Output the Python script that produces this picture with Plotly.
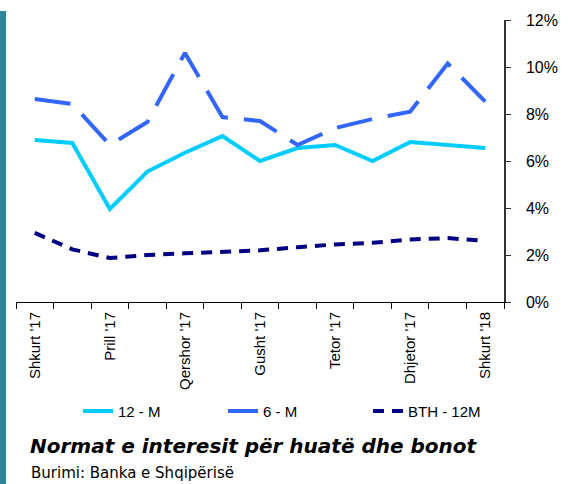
import plotly.graph_objects as go

# Muajt (shkurt 2017 - shkurt 2018)
muajt = ["Shkurt '17", "Mars '17", "Prill '17", "Maj '17", "Qershor '17", "Korrik '17",
         "Gusht '17", "Shtator '17", "Tetor '17", "Nëntor '17", "Dhjetor '17",
         "Janar '18", "Shkurt '18"]
etiketat = [m if i % 2 == 0 else "" for i, m in enumerate(muajt)]

# Normat e interesit (%)
m12 = [6.89, 6.77, 3.96, 5.55, 6.35, 7.06, 6.0, 6.55, 6.68, 6.0, 6.81, 6.68, 6.55]
m6 = [8.64, 8.43, 6.68, 7.66, 10.6, 7.87, 7.7, 6.68, 7.4, 7.79, 8.1, 10.15, 8.53]
bth12 = [2.94, 2.24, 1.87, 2.0, 2.07, 2.12, 2.2, 2.33, 2.45, 2.52, 2.66, 2.72, 2.6]

fig = go.Figure()
fig.add_trace(go.Scatter(x=muajt, y=m12, name="12 - M", mode="lines",
                         line=dict(color="#00CCFF", width=4)))
fig.add_trace(go.Scatter(x=muajt, y=m6, name="6 - M", mode="lines",
                         line=dict(color="#3366FF", width=4, dash="36px,16px")))
fig.add_trace(go.Scatter(x=muajt, y=bth12, name="BTH - 12M", mode="lines",
                         line=dict(color="#000080", width=4, dash="11px,8px")))

fig.update_layout(
    width=570, height=484,
    margin=dict(l=16, r=66, t=20, b=182, autoexpand=False),
    paper_bgcolor="white", plot_bgcolor="white",
    font=dict(family="Liberation Sans, Arial", color="#000000", size=13),
    showlegend=True,
    legend=dict(orientation="h", x=0.127, y=-0.387, xanchor="left", yanchor="middle",
                entrywidth=100, font=dict(size=15), bgcolor="rgba(0,0,0,0)"),
    xaxis=dict(type="category", tickvals=muajt, ticktext=etiketat, tickangle=-90,
               range=[-0.5, len(muajt) - 0.5],
               tickson="boundaries", ticks="outside", ticklen=6, tickcolor="#000",
               ticklabelstandoff=3,
               showline=True, linecolor="#000", linewidth=1, showgrid=False,
               automargin=False, tickfont=dict(size=15)),
    yaxis=dict(side="right", range=[0, 12], dtick=2, ticksuffix="%",
               ticks="outside", ticklen=5, tickcolor="#333", ticklabelstandoff=12,
               showline=True, linecolor="#333", linewidth=1.5, showgrid=False,
               zeroline=False, automargin=False, tickfont=dict(size=16)),
)

# Shirit ngjyrë blu-jeshile në të majtë
fig.add_shape(type="rect", xref="paper", yref="paper",
              x0=-16 / 488, x1=-10 / 488, y0=-182 / 282, y1=291 / 282,
              fillcolor="#2E8499", line=dict(width=0), layer="above")

fig.add_annotation(text="<b><i>Normat e interesit për huatë dhe bonot</i></b>",
                   xref="paper", yref="paper", x=12 / 488, y=-144 / 282,
                   xanchor="left", yanchor="middle", showarrow=False,
                   font=dict(size=20, family="DejaVu Sans"))
fig.add_annotation(text="Burimi: Banka e Shqipërisë",
                   xref="paper", yref="paper", x=13 / 488, y=-171 / 282,
                   xanchor="left", yanchor="middle", showarrow=False,
                   font=dict(size=15, family="DejaVu Sans"))

fig.write_html("out.html", config={"displayModeBar": False},
               post_script="document.body.style.margin='0';")
